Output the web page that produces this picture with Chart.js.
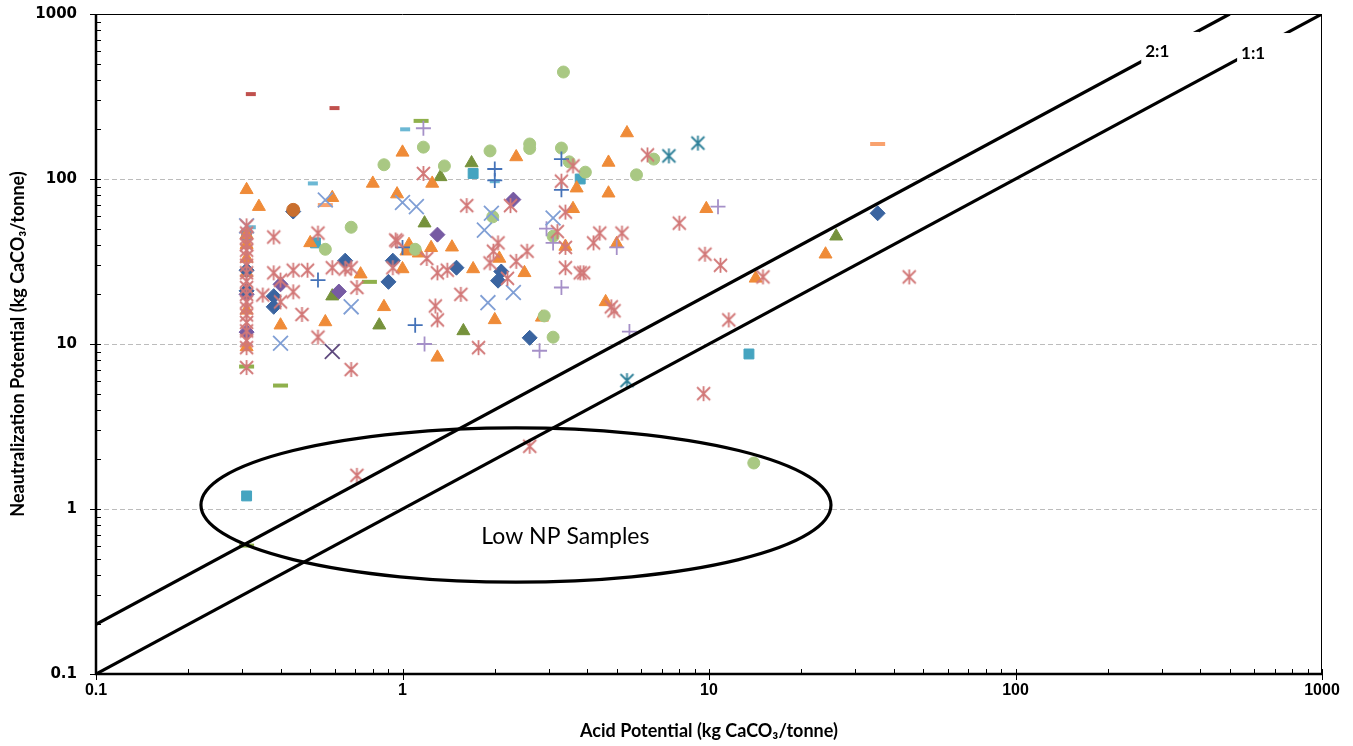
<!DOCTYPE html>
<html>
<head>
<meta charset="utf-8">
<script src="https://cdn.jsdelivr.net/npm/chart.js@4"></script>
<style>
  html, body { margin: 0; padding: 0; background: #fff; }
  canvas { display: block; }
</style>
</head>
<body>
<canvas id="chart" width="1353" height="746"></canvas>
<script>
// [AP, NP] pairs, kg CaCO3/tonne
const blueDiamonds = [[0.44,63.5],[0.65,32],[0.93,32],[0.90,23.8],[0.38,19.5],[0.38,16.8],[0.31,28],[0.31,21],
  [1.5,29],[2.1,27.5],[2.05,24.2],[2.6,10.9],[35.5,62]];
const purpleDiamonds = [[0.40,23],[0.62,20.8],[0.31,11.8],[1.3,46],[2.3,75],[0.31,20]];
const orangeTriangles = [[0.31,86],[0.34,68],[1.0,145],[0.8,94],[0.59,77],[0.96,81],[1.25,94],[0.5,41],[0.73,26.5],
  [0.87,16.8],[0.56,13.6],[0.40,13],[1.05,40],[1.03,36.5],[1.13,35.5],[1.0,28.5],[0.31,9.6],[0.31,46],[0.31,40],
  [0.31,33],[0.31,27],[0.31,16],[2.35,136],[4.7,126],[5.4,190],[3.7,88],[4.7,82],[3.6,66],[1.24,38.3],[1.45,38.6],
  [1.7,28.5],[2.07,33],[2.5,27],[3.4,39],[5.0,40.5],[2.0,14],[1.3,8.3],[2.85,14.5],[4.6,18],[9.8,66],[14.2,25],[24,35]];
const oliveTriangles = [[1.33,103],[1.18,54],[1.68,125],[0.59,19.5],[0.84,13],[1.58,12],[26,45]];
const tealSquares = [[1.7,108],[3.8,100],[0.52,41],[0.31,46],[13.5,8.7],[0.31,1.2]];
const lightBlueX = [[0.56,74.6],[1.0,72],[1.11,68],[0.68,16.8],[0.40,10.1],[1.95,62],[1.85,49],[3.1,58],
  [1.9,17.8],[2.3,20.5],[0.31,52]];
const darkPurpleX = [[0.59,9]];
const tealStars = [[9.2,165],[7.4,138],[5.4,6]];
const bluePlus = [[0.53,24.4],[1.0,38.5],[1.1,13],[2.0,115],[2.0,98],[3.3,132],[3.3,86]];
const lilacPlus = [[1.17,203],[2.95,50],[3.1,41],[3.3,22],[1.18,10],[2.8,9.1],[5.0,38.5],[10.7,68],[5.5,11.9]];
const greenCircles = [[3.35,445],[1.17,156],[0.87,122],[1.37,120],[1.93,148],[2.6,163],[2.6,153],[3.3,154],
  [3.5,127],[3.95,110],[5.8,106],[6.6,132],[1.97,59],[0.68,51],[0.56,37.5],[1.1,37.5],[3.1,45],[2.9,14.8],
  [3.1,11],[14,1.9]];
const orangeCircles = [[0.44,65]];
const redDashes = [[0.32,327],[0.60,269]];
const blueDashes = [[1.02,200],[0.51,94],[2.0,97],[0.32,51]];
const greenDashes = [[1.15,225],[0.78,23.8],[0.40,5.6],[0.31,7.3],[0.31,0.6]];
const peachDashes = [[35.5,163],[0.56,69.5]];
const pinkStars = [[0.31,52],[0.31,47],[0.31,44],[0.31,40],[0.31,37],[0.31,34],[0.31,30],[0.31,27],[0.31,24],
  [0.31,22],[0.31,20],[0.31,18],[0.31,16.5],[0.31,15],[0.31,13.5],[0.31,12],[0.31,10.5],[0.31,9.5],[0.31,7.2],
  [1.17,108],[1.62,69],[2.25,69],[3.3,97],[3.6,120],[6.3,140],[3.4,63],[8.0,54],[5.2,47],[9.7,35],[10.9,30],
  [15,25.5],[45,25.5],[4.8,16.8],[11.6,14],[9.6,5.0],[2.6,2.4],[0.71,1.6],[4.4,47],[4.2,41],[3.4,38.5],[3.4,29],
  [3.8,27],[3.9,27],[4.9,15.9],[3.2,48],[2.05,41],[1.98,36.5],[1.93,31],[2.35,31.7],[2.55,36.5],[2.2,25],[1.3,27],
  [1.4,28],[1.2,33],[1.55,20],[1.28,17],[1.3,14],[1.77,9.5],[0.38,44.5],[0.53,47],[0.38,27],[0.44,28],[0.49,28],
  [0.59,29],[0.65,28.5],[0.68,29],[0.40,24.4],[0.44,20.7],[0.35,19.8],[0.40,18],[0.47,15.1],[0.53,11],[0.71,22],
  [0.68,7],[0.95,42.7],[0.93,29],[0.96,42]];

// ratio lines NP = k * AP
const ratioLines = [{ label: '1:1', k: 1, ends: [0.1, 1000] }, { label: '2:1', k: 2, ends: [0.1, 500] }];
const ratioLabelAt = { '2:1': [290, 589], '1:1': [596, 580] };
const majorTicks = [0.1, 1, 10, 100, 1000];
// "Low NP Samples" ellipse box (AP range, NP range)
const lowNpAP = [0.22, 25];
const lowNpNP = [0.36, 3.1];
const lowNpLabelAt = [3.4, 0.676];

const xy = pts => pts.map(p => ({ x: p[0], y: p[1] }));

function asterisk(color) {
  const c = document.createElement('canvas');
  c.width = c.height = 17;
  const g = c.getContext('2d');
  g.strokeStyle = color;
  g.lineWidth = 1.8;
  g.beginPath();
  g.moveTo(2, 2); g.lineTo(15, 15);
  g.moveTo(15, 2); g.lineTo(2, 15);
  g.moveTo(8.5, 1); g.lineTo(8.5, 16);
  g.stroke();
  return c;
}

function pts(label, data, style, color, radius, extra) {
  return Object.assign({
    label, data: xy(data), pointStyle: style, pointRadius: radius, pointHoverRadius: radius,
    backgroundColor: color, borderColor: color, pointBorderWidth: 1, showLine: false
  }, extra || {});
}

const datasets = [
  ...ratioLines.map(r => ({
    label: r.label, data: r.ends.map(v => ({ x: v, y: v * r.k })), showLine: true,
    borderColor: '#000', borderWidth: 3.2, pointRadius: 0, fill: false, order: 0
  })),
  pts('pinkStars', pinkStars, asterisk('#D27878'), '#D27878', 8),
  pts('tealStars', tealStars, asterisk('#2F8199'), '#2F8199', 8),
  pts('lightBlueX', lightBlueX, 'crossRot', '#809FD5', 10.5, { pointBorderWidth: 1.8 }),
  pts('darkPurpleX', darkPurpleX, 'crossRot', '#5F4A7E', 10.5, { pointBorderWidth: 1.8 }),
  pts('bluePlus', bluePlus, 'cross', '#4472B8', 7.5, { pointBorderWidth: 1.8 }),
  pts('lilacPlus', lilacPlus, 'cross', '#A590C8', 7.5, { pointBorderWidth: 1.8 }),
  pts('greenCircles', greenCircles, 'circle', '#A9C883', 6),
  pts('orangeCircles', orangeCircles, 'circle', '#C96F2E', 6.5),
  pts('blueDiamonds', blueDiamonds, 'rectRot', '#3A64A0', 7.5),
  pts('purpleDiamonds', purpleDiamonds, 'rectRot', '#775BA3', 7.5),
  pts('orangeTriangles', orangeTriangles, 'triangle', '#EF8B38', 7.5),
  pts('oliveTriangles', oliveTriangles, 'triangle', '#76923C', 7.5),
  pts('tealSquares', tealSquares, 'rect', '#45A4C0', 7),
  pts('redDashes', redDashes, 'line', '#C0504D', 5, { pointBorderWidth: 4 }),
  pts('blueDashes', blueDashes, 'line', '#6CB8D4', 5, { pointBorderWidth: 4 }),
  pts('greenDashes', greenDashes, 'line', '#8FB04C', 7.5, { pointBorderWidth: 4 }),
  pts('peachDashes', peachDashes, 'line', '#F9A26E', 7.5, { pointBorderWidth: 4 })
];

const decorations = {
  id: 'decorations',
  beforeDatasetsDraw(chart) {
    const { ctx, chartArea: a, scales: { y } } = chart;
    ctx.save();
    ctx.strokeStyle = '#bcbcbc';
    ctx.lineWidth = 1;
    ctx.setLineDash([5, 3]);
    majorTicks.slice(1, -1).forEach(v => {
      const py = Math.round(y.getPixelForValue(v)) + 0.5;
      ctx.beginPath(); ctx.moveTo(a.left, py); ctx.lineTo(a.right, py); ctx.stroke();
    });
    ctx.restore();
  },
  afterDatasetsDraw(chart) {
    const { ctx, chartArea: a, scales: { x, y } } = chart;
    ctx.save();

    // ratio labels sit on white boxes that break the lines
    ctx.font = 'bold 17px Lato, "Liberation Sans", sans-serif';
    ctx.textAlign = 'center';
    ctx.textBaseline = 'middle';
    Object.entries(ratioLabelAt).forEach(([txt, p]) => {
      const px = x.getPixelForValue(p[0]), py = y.getPixelForValue(p[1]);
      ctx.fillStyle = '#fff';
      ctx.fillRect(px - 16, py - 20, 58, 37);
      ctx.fillStyle = '#000';
      ctx.fillText(txt, px, py);
    });

    // low NP ellipse
    const ex1 = x.getPixelForValue(lowNpAP[0]), ex2 = x.getPixelForValue(lowNpAP[1]);
    const ey1 = y.getPixelForValue(lowNpNP[0]), ey2 = y.getPixelForValue(lowNpNP[1]);
    ctx.strokeStyle = '#000';
    ctx.lineWidth = 3.2;
    ctx.beginPath();
    ctx.ellipse((ex1 + ex2) / 2, (ey1 + ey2) / 2, (ex2 - ex1) / 2, (ey1 - ey2) / 2, 0, 0, Math.PI * 2);
    ctx.stroke();
    ctx.font = '23px Lato, "Liberation Sans", sans-serif';
    ctx.fillStyle = '#000';
    ctx.fillText('Low NP Samples', x.getPixelForValue(lowNpLabelAt[0]), y.getPixelForValue(lowNpLabelAt[1]));

    // plot frame: thin top/right, heavy axes
    ctx.lineWidth = 1;
    ctx.beginPath();
    ctx.moveTo(a.left, a.top + 0.5); ctx.lineTo(a.right - 0.5, a.top + 0.5); ctx.lineTo(a.right - 0.5, a.bottom);
    ctx.stroke();
    ctx.lineWidth = 2.5;
    ctx.beginPath();
    ctx.moveTo(a.left, a.top); ctx.lineTo(a.left, a.bottom); ctx.lineTo(a.right, a.bottom);
    ctx.stroke();

    // tick marks: majors outside, minors inside
    ctx.lineWidth = 1;
    majorTicks.forEach((d, i) => {
      const px = Math.round(x.getPixelForValue(d)) + 0.5, py = Math.round(y.getPixelForValue(d)) + 0.5;
      ctx.beginPath();
      ctx.moveTo(px, a.bottom - 5); ctx.lineTo(px, a.bottom + 6);
      ctx.moveTo(a.left - 6, py); ctx.lineTo(a.left + 5, py);
      ctx.stroke();
      if (i === majorTicks.length - 1) return;
      for (let m = 2; m <= 9; m++) {
        const mx = Math.round(x.getPixelForValue(d * m)) + 0.5, my = Math.round(y.getPixelForValue(d * m)) + 0.5;
        ctx.beginPath();
        ctx.moveTo(mx, a.bottom); ctx.lineTo(mx, a.bottom - 5);
        ctx.moveTo(a.left, my); ctx.lineTo(a.left + 5, my);
        ctx.stroke();
      }
    });
    ctx.restore();
  }
};

const logAxis = (title, titleFont, tickFont, padding) => ({
  type: 'logarithmic', min: 0.1, max: 1000,
  afterBuildTicks: s => { s.ticks = majorTicks.map(v => ({ value: v })); },
  ticks: { callback: v => String(v), color: '#000', font: tickFont, padding: padding, maxRotation: 0, autoSkip: false },
  grid: { display: false, drawTicks: false },
  border: { display: false },
  title: { display: true, text: title, color: '#000', font: titleFont }
});

const xAxis = logAxis('Acid Potential (kg CaCO₃/tonne)',
  { family: 'Lato', weight: 'bold', size: 18 },
  { family: '"Liberation Sans Narrow", "Liberation Sans"', weight: 'bold', size: 16 }, 7);
xAxis.title.padding = { top: 0, bottom: 4 };
xAxis.afterFit = s => { s.height = 72; };

const yAxis = logAxis('Neautralization Potential (kg CaCO₃/tonne)',
  { family: 'Lato', weight: 'bold', size: 18 },
  { family: '"DejaVu Sans"', weight: 'bold', size: 15 }, 19);
yAxis.title.padding = { top: 7, bottom: 0 };
// keep the plot box where the reference has it
yAxis.afterFit = s => { s.width = 96; s.paddingTop = 14; s.paddingBottom = 9; };

new Chart(document.getElementById('chart'), {
  type: 'scatter',
  data: { datasets },
  options: {
    responsive: false,
    animation: false,
    events: [],
    layout: { padding: { top: 0, right: 31, left: 0, bottom: 0 } },
    plugins: { legend: { display: false }, tooltip: { enabled: false } },
    scales: { x: xAxis, y: yAxis }
  },
  plugins: [decorations]
});
</script>
</body>
</html>
